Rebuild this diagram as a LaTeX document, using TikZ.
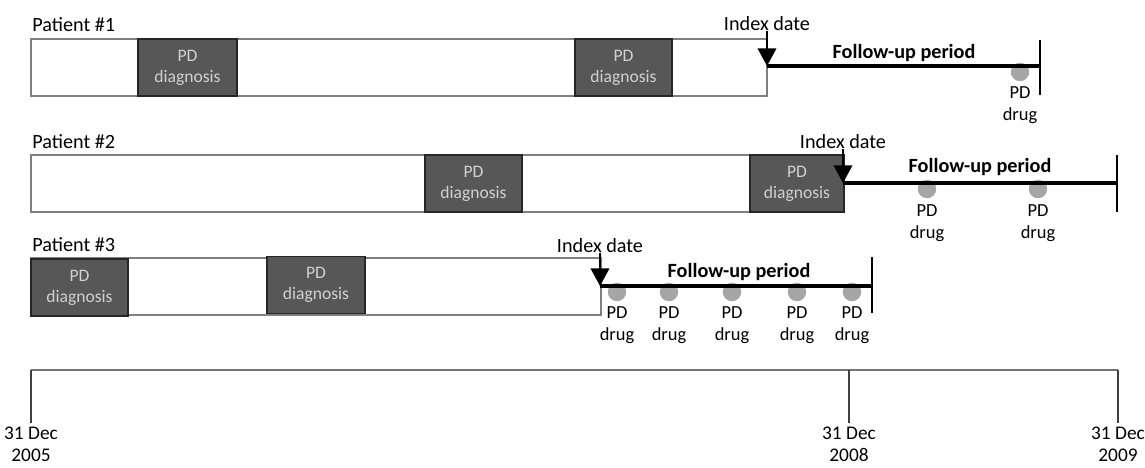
\documentclass[tikz,border=0pt]{standalone}
\usepackage{fontspec}
\setmainfont{Carlito}
\usetikzlibrary{arrows.meta,positioning}

\tikzset{
  patbar/.style={draw=black!50, line width=0.9pt, fill=white},
  pdbox/.style={draw=black!85, fill=black!66, line width=0.9pt, text=black!18, align=center,
    inner sep=0pt, minimum height=1.14cm, font=\fontsize{10}{12}\selectfont},
  lbl/.style={inner sep=0pt, font=\fontsize{11.5}{13}\selectfont},
  fulbl/.style={inner sep=0pt, font=\bfseries\fontsize{11.5}{13}\selectfont},
  idxarrow/.style={line width=1.1pt, -{Triangle[width=10.5pt,length=10pt]}},
  fuline/.style={line width=2.3pt},
  endbar/.style={line width=1.6pt},
  drugdot/.style={circle, fill=black!35, inner sep=0pt, minimum size=10.5pt},
  drug/.style={align=center, inner sep=0pt, font=\fontsize{10.5}{12.5}\selectfont},
  date/.style={align=center, inner sep=2pt, font=\fontsize{11}{12.5}\selectfont},
}

\begin{document}
\begin{tikzpicture}[x=0.02cm, y=-0.02cm]
\useasboundingbox (0,0) rectangle (1145,467);

% patient 1
\node[lbl, anchor=base west] (pat1) at (32,31) {Patient \#1};
\draw[patbar] (31,39) rectangle (767,96);
\node[pdbox, minimum width=1.98cm] (dx11) at (187.5,67.5) {PD\\diagnosis};
\node[pdbox, minimum width=1.94cm] (dx12) at (623.5,67.5) {PD\\diagnosis};
\node[drugdot] (dot11) at (1020,72) {};
\node[drug, anchor=north] (drug11) at (1020,86) {PD\\drug};
\node[lbl, anchor=base] (idx1) at (767,30) {Index date};
\coordinate (s1) at (767,66);
\coordinate (e1) at (1040,66);
\draw[idxarrow] (idx1) -- (s1);
\draw[fuline] (s1) -- (e1);
\draw[endbar] (1040,40) -- (1040,95);
\node[fulbl, anchor=base] (fu1) at (904,58) {Follow-up period};

% patient 2
\node[lbl, anchor=base west] (pat2) at (32,148) {Patient \#2};
\draw[patbar] (31,155) rectangle (844,212);
\node[pdbox, minimum width=1.94cm] (dx21) at (473.5,183.5) {PD\\diagnosis};
\node[pdbox, minimum width=1.88cm] (dx22) at (797,183.5) {PD\\diagnosis};
\node[drugdot] (dot21) at (927,189) {};
\node[drugdot] (dot22) at (1038,189) {};
\node[drug, anchor=north] (drug21) at (927,204) {PD\\drug};
\node[drug, anchor=north] (drug22) at (1038,204) {PD\\drug};
\node[lbl, anchor=base] (idx2) at (843,148) {Index date};
\coordinate (s2) at (843,183);
\coordinate (e2) at (1117,183);
\draw[idxarrow] (idx2) -- (s2);
\draw[fuline] (s2) -- (e2);
\draw[endbar] (1117,155) -- (1117,212);
\node[fulbl, anchor=base] (fu2) at (980,172) {Follow-up period};

% patient 3
\node[lbl, anchor=base west] (pat3) at (32,251) {Patient \#3};
\draw[patbar] (31,258) rectangle (601,315);
\node[pdbox, minimum width=1.94cm] (dx31) at (79.5,287.5) {PD\\diagnosis};
\node[pdbox, minimum width=1.96cm] (dx32) at (316,285) {PD\\diagnosis};
\foreach \x [count=\i] in {617,669,732,797,852} {
  \node[drugdot] (dot3\i) at (\x,292) {};
  \node[drug, anchor=north] (drug3\i) at (\x,306) {PD\\drug};
}
\node[lbl, anchor=base] (idx3) at (600,252) {Index date};
\coordinate (s3) at (600,286);
\coordinate (e3) at (872,286);
\draw[idxarrow] (idx3) -- (s3);
\draw[fuline] (s3) -- (e3);
\draw[endbar] (872,257) -- (872,313);
\node[fulbl, anchor=base] (fu3) at (739,277) {Follow-up period};

% time axis
\coordinate (t0) at (31,370);
\coordinate (t1) at (849,370);
\coordinate (t2) at (1118,370);
\draw[black!55, line width=1.4pt] (t0) -- (t2);
\node[date, anchor=north] (d0) at (31,423) {31 Dec\\2005};
\node[date, anchor=north] (d1) at (849,423) {31 Dec\\2008};
\node[date, anchor=north] (d2) at (1118,423) {31 Dec\\2009};
\draw[black!75, line width=0.6pt] (t0) -- (d0);
\draw[black!75, line width=0.6pt] (t1) -- (d1);
\draw[black!75, line width=0.6pt] (t2) -- (d2);
\end{tikzpicture}
\end{document}
